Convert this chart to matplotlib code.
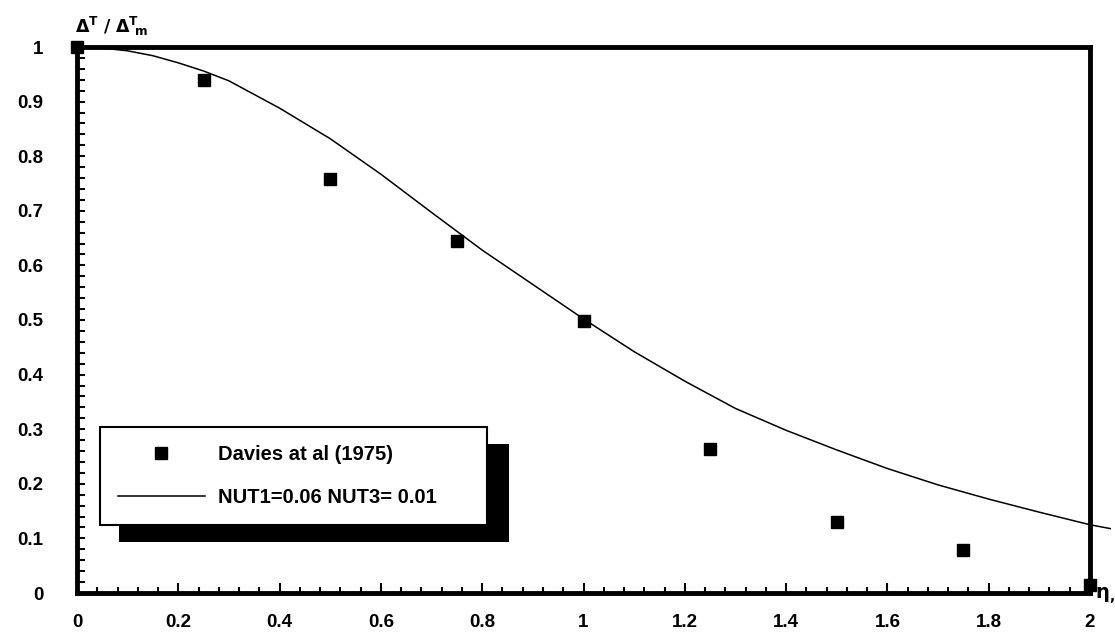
import matplotlib
matplotlib.use("Agg")
import matplotlib.pyplot as plt
from matplotlib.patches import Rectangle
from matplotlib.ticker import MultipleLocator

plt.rcParams['font.family'] = ['Liberation Sans', 'DejaVu Sans']
plt.rcParams['mathtext.fontset'] = 'dejavusans'

# measured temperature excess (Davies et al 1975)
eta_meas = [0, 0.25, 0.5, 0.75, 1.0, 1.25, 1.5, 1.75, 2.0]
dt_meas = [1.0, 0.94, 0.758, 0.645, 0.498, 0.264, 0.13, 0.079, 0.015]

# computed profile, NUT1=0.06 NUT3=0.01
eta_calc = [0, 0.05, 0.1, 0.15, 0.2, 0.25, 0.3, 0.4, 0.5, 0.6, 0.7, 0.8, 0.9,
            1.0, 1.1, 1.2, 1.3, 1.4, 1.5, 1.6, 1.7, 1.8, 1.9, 2.0, 2.04]
dt_calc = [1.0, 0.998, 0.993, 0.984, 0.971, 0.956, 0.938, 0.888, 0.832, 0.767,
           0.697, 0.628, 0.565, 0.502, 0.442, 0.388, 0.338, 0.298, 0.262,
           0.228, 0.198, 0.172, 0.148, 0.125, 0.118]

x_ticks = [0, 0.2, 0.4, 0.6, 0.8, 1, 1.2, 1.4, 1.6, 1.8, 2]
x_labels = ['0', '0.2', '0.4', '0.6', '0.8', '1', '1.2', '1.4', '1.6', '1.8', '2']
y_ticks = [0, 0.1, 0.2, 0.3, 0.4, 0.5, 0.6, 0.7, 0.8, 0.9, 1]
y_labels = ['0', '0.1', '0.2', '0.3', '0.4', '0.5', '0.6', '0.7', '0.8', '0.9', '1']

W, H = 1115, 633
fig = plt.figure(figsize=(W / 100, H / 100), dpi=100)
ax = fig.add_axes([77 / W, 1 - 593 / H, (1090 - 77) / W, (593 - 47) / H])

line, = ax.plot(eta_calc, dt_calc, color='black', lw=1.1, clip_on=False,
                label='NUT1=0.06 NUT3= 0.01')
pts, = ax.plot(eta_meas, dt_meas, 's', color='black', ms=8.5, clip_on=False,
               zorder=4, label='Davies at al (1975)')

ax.set_xlim(0, 2)
ax.set_ylim(0, 1)
for s in ax.spines.values():
    s.set_linewidth(3.5)

ax.xaxis.set_minor_locator(MultipleLocator(0.04))
ax.yaxis.set_minor_locator(MultipleLocator(0.02))
ax.set_xticks(x_ticks)
ax.set_xticklabels(x_labels)
ax.set_yticks(y_ticks)
ax.set_yticklabels(y_labels)
ax.tick_params(which='both', direction='in', width=1.5, top=False, right=False)
ax.tick_params(axis='x', which='major', length=7, pad=15, labelsize=13.5)
ax.tick_params(axis='x', which='minor', length=4)
ax.tick_params(axis='y', which='major', length=6, pad=24, labelsize=13.5)
ax.tick_params(axis='y', which='minor', length=6)
for lab in ax.get_xticklabels() + ax.get_yticklabels():
    lab.set_fontweight('bold')

# axis captions
plt.rcParams['mathtext.default'] = 'bf'
fig.text(75 / W, 1 - 33 / H, r'$\Delta^{T}\ /\ \Delta^{T}\!{}_{m}$', fontsize=12.5,
         va='baseline', ha='left')
fig.text(1095 / W, 1 - 596 / H, r'$\eta_{,}$', fontsize=14,
         va='center', ha='left')

leg = ax.legend(handles=[pts, line], loc='lower left',
                bbox_to_anchor=(0.0227, 0.1245, 0.382, 0.18), mode='expand',
                borderaxespad=0, frameon=True, fancybox=False,
                edgecolor='black', framealpha=1, borderpad=0.9,
                labelspacing=1.2, handlelength=4.3, handletextpad=0.65,
                prop={'weight': 'bold', 'size': 14.5})
leg.get_frame().set_linewidth(1.5)
leg.set_zorder(6)

# solid drop shadow behind the legend box
fig.canvas.draw()
bb = leg.get_window_extent()
shadow = Rectangle((bb.x0 + 19, bb.y0 - 17), bb.width + 3, bb.height,
                   transform=None, facecolor='black', edgecolor='none',
                   zorder=5.5)
ax.add_artist(shadow)

fig.savefig('out.png', dpi=100)
